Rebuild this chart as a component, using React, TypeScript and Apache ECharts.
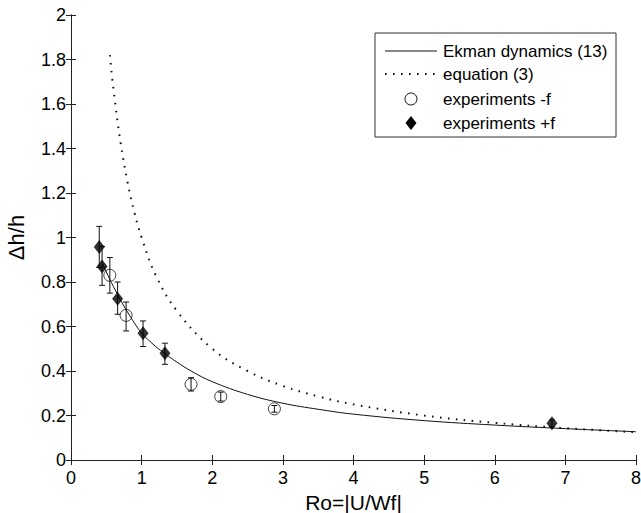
import React, { useEffect, useRef } from "react";
import * as echarts from "echarts";

// experiments with -f (open circles): [Ro, dh/h, low, high]
const expMinusX = [0.55, 0.78, 1.7, 2.12, 2.88];
const expMinusY = [0.83, 0.65, 0.34, 0.285, 0.23];
const expMinusLo = [0.75, 0.58, 0.31, 0.265, 0.215];
const expMinusHi = [0.91, 0.71, 0.37, 0.305, 0.245];

// experiments with +f (filled diamonds)
const expPlusX = [0.4, 0.44, 0.66, 1.02, 1.33, 6.81];
const expPlusY = [0.957, 0.87, 0.725, 0.57, 0.48, 0.165];
const expPlusLo = [0.865, 0.785, 0.655, 0.51, 0.43, 0.15];
const expPlusHi = [1.05, 0.96, 0.8, 0.625, 0.525, 0.18];

// Ekman dynamics (13) curve
const ekmanX = [0.45, 0.5, 0.6, 0.7, 0.8, 0.9, 1.0, 1.2, 1.33, 1.5, 1.7, 2.0, 2.5, 3.0, 3.5, 4, 5, 6, 7, 8];
const ekmanY = [0.88, 0.845, 0.78, 0.72, 0.665, 0.615, 0.57, 0.51, 0.478, 0.44, 0.4, 0.352, 0.295, 0.255, 0.228, 0.206, 0.177, 0.157, 0.141, 0.127];

// equation (3) curve
const eqX = [0.55, 0.6, 0.7, 0.8, 0.9, 1.0, 1.2, 1.5, 2.0, 2.5, 3.0, 3.5, 4, 5, 6, 7, 8];
const eqY = [1.82, 1.67, 1.43, 1.25, 1.11, 1.0, 0.83, 0.67, 0.5, 0.4, 0.333, 0.286, 0.25, 0.2, 0.167, 0.143, 0.125];

const xTicks = [0, 1, 2, 3, 4, 5, 6, 7, 8];
const yTicks = [0, 0.2, 0.4, 0.6, 0.8, 1, 1.2, 1.4, 1.6, 1.8, 2];

const legendLabels = ["Ekman dynamics (13)", "equation (3)", "experiments -f", "experiments +f"];

const FONT = "'Liberation Sans', Arial, Helvetica, sans-serif";

export default function App() {
  const ref = useRef<HTMLDivElement>(null);

  useEffect(() => {
    if (!ref.current) return;
    const chart = echarts.init(ref.current, undefined, { renderer: "svg" });

    const errRender = (params: any, api: any) => {
      const x = api.value(0);
      const lo = api.value(2);
      const hi = api.value(3);
      const pHi = api.coord([x, hi]);
      const pLo = api.coord([x, lo]);
      const w = 3;
      const st = { stroke: "#111", lineWidth: 1 };
      return {
        type: "group",
        children: [
          { type: "line", shape: { x1: pHi[0], y1: pHi[1], x2: pLo[0], y2: pLo[1] }, style: st },
          { type: "line", shape: { x1: pHi[0] - w, y1: pHi[1], x2: pHi[0] + w, y2: pHi[1] }, style: st },
          { type: "line", shape: { x1: pLo[0] - w, y1: pLo[1], x2: pLo[0] + w, y2: pLo[1] }, style: st },
        ],
      };
    };

    const axisCommon = {
      axisLine: { show: true, lineStyle: { color: "#222", width: 1 } },
      axisTick: { show: true, inside: true, length: 5, lineStyle: { color: "#222" } },
      splitLine: { show: false },
    };

    const lx = 375, ly = 33;
    const legendRowY = [51, 74, 99, 123];

    const option: any = {
      animation: false,
      backgroundColor: "#fff",
      grid: {
        left: 71,
        top: 15,
        width: 565,
        height: 445,
        containLabel: false,
        outerBoundsMode: "none",
      },
      xAxis: [
        {
          type: "value",
          min: xTicks[0],
          max: xTicks[xTicks.length - 1],
          interval: 1,
          ...axisCommon,
          axisLabel: { color: "#000", fontSize: 18, fontFamily: FONT, margin: 9 },
          name: "Ro=|U/Wf|",
          nameLocation: "middle",
          nameGap: 28,
          nameTextStyle: { color: "#000", fontSize: 21, fontFamily: FONT, verticalAlign: "top" },
        },
        {
          type: "value",
          position: "top",
          min: xTicks[0],
          max: xTicks[xTicks.length - 1],
          interval: 1,
          ...axisCommon,
          axisLabel: { show: false },
        },
      ],
      yAxis: [
        {
          type: "value",
          min: yTicks[0],
          max: yTicks[yTicks.length - 1],
          interval: 0.2,
          ...axisCommon,
          axisLabel: { color: "#000", fontSize: 18, fontFamily: FONT, margin: 5 },
          name: "Δh/h",
          nameLocation: "middle",
          nameGap: 44,
          nameRotate: 90,
          nameTextStyle: { color: "#000", fontSize: 22, fontFamily: FONT },
        },
        {
          type: "value",
          position: "right",
          min: yTicks[0],
          max: yTicks[yTicks.length - 1],
          interval: 0.2,
          ...axisCommon,
          axisLabel: { show: false },
        },
      ],
      series: [
        {
          name: legendLabels[0],
          type: "line",
          data: ekmanX.map((x, i) => [x, ekmanY[i]]),
          showSymbol: false,
          smooth: 0.4,
          lineStyle: { color: "#111", width: 1 },
          z: 2,
        },
        {
          name: legendLabels[1],
          type: "line",
          data: eqX.map((x, i) => [x, eqY[i]]),
          showSymbol: false,
          smooth: 0.4,
          lineStyle: { color: "#111", width: 2, type: [1.6, 6.4] },
          z: 2,
        },
        {
          type: "custom",
          renderItem: errRender,
          data: expMinusX.map((x, i) => [x, expMinusY[i], expMinusLo[i], expMinusHi[i]]),
          encode: { x: 0, y: [2, 3] },
          z: 3,
        },
        {
          type: "custom",
          renderItem: errRender,
          data: expPlusX.map((x, i) => [x, expPlusY[i], expPlusLo[i], expPlusHi[i]]),
          encode: { x: 0, y: [2, 3] },
          z: 3,
        },
        {
          name: legendLabels[2],
          type: "scatter",
          data: expMinusX.map((x, i) => [x, expMinusY[i]]),
          symbol: "circle",
          symbolSize: 12,
          itemStyle: { color: "rgba(255,255,255,0)", borderColor: "#111", borderWidth: 1 },
          z: 4,
        },
        {
          name: legendLabels[3],
          type: "scatter",
          data: expPlusX.map((x, i) => [x, expPlusY[i]]),
          symbol: "diamond",
          symbolSize: [11, 14],
          itemStyle: { color: "#000" },
          z: 5,
        },
      ],
      graphic: [
        {
          type: "rect",
          shape: { x: lx, y: ly, width: 241, height: 104 },
          style: { fill: "#fff", stroke: "#333", lineWidth: 1 },
          z: 10,
        },
        {
          type: "line",
          shape: { x1: 385, y1: legendRowY[0], x2: 437, y2: legendRowY[0] },
          style: { stroke: "#111", lineWidth: 1 },
          z: 11,
        },
        {
          type: "line",
          shape: { x1: 385, y1: legendRowY[1], x2: 437, y2: legendRowY[1] },
          style: { stroke: "#111", lineWidth: 2, lineDash: [1.6, 6.4] },
          z: 11,
        },
        {
          type: "circle",
          shape: { cx: 411, cy: legendRowY[2], r: 6 },
          style: { fill: "#fff", stroke: "#111", lineWidth: 1 },
          z: 11,
        },
        {
          type: "polygon",
          shape: {
            points: [
              [411, legendRowY[3] - 7],
              [416.5, legendRowY[3]],
              [411, legendRowY[3] + 7],
              [405.5, legendRowY[3]],
            ],
          },
          style: { fill: "#000" },
          z: 11,
        },
        ...legendLabels.map((t, i) => ({
          type: "text",
          x: 443,
          y: legendRowY[i],
          style: {
            text: t,
            fill: "#000",
            fontSize: 17,
            fontFamily: FONT,
            verticalAlign: "middle",
            align: "left",
          },
          z: 11,
        })),
      ],
    };

    chart.setOption(option);
    return () => chart.dispose();
  }, []);

  return (
    <div
      ref={ref}
      style={{ position: "fixed", left: 0, top: 0, width: 641, height: 513, background: "#fff" }}
    />
  );
}
